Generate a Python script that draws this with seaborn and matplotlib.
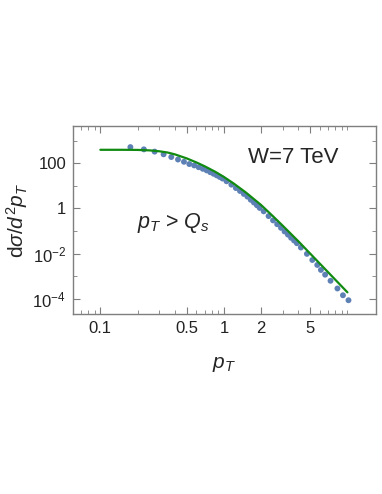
import numpy as np
import pandas as pd
import seaborn as sns
import matplotlib
matplotlib.use("Agg")
import matplotlib.pyplot as plt
from matplotlib.ticker import FixedLocator, NullFormatter


# theory curve (log10 of the cross section)
curve_pt = [0.1, 0.15, 0.2, 0.25, 0.3, 0.35, 0.4, 0.5, 0.6, 0.7, 0.85, 1.0, 1.2,
            1.5, 2.0, 2.5, 3.0, 4.0, 5.0, 6.0, 7.0, 8.0, 9.0, 10.0]
curve_log = [2.59, 2.59, 2.585, 2.565, 2.525, 2.47, 2.39, 2.21, 2.03, 1.86, 1.62,
             1.39, 1.10, 0.71, 0.15, -0.35, -0.77, -1.45, -2.0, -2.45, -2.83,
             -3.16, -3.45, -3.71]

# data points
data_pt = [0.175, 0.225, 0.275, 0.325, 0.375, 0.425, 0.475, 0.525, 0.575, 0.625,
           0.675, 0.725, 0.775, 0.825, 0.875, 0.925, 0.975,
           1.05, 1.15, 1.25, 1.35, 1.45, 1.55, 1.65, 1.75, 1.85, 1.95,
           2.1, 2.3, 2.5, 2.7, 2.9, 3.1, 3.3, 3.5, 3.7, 3.9,
           4.2, 4.7, 5.2, 5.7, 6.1, 6.6, 7.3, 8.3, 9.2, 10.2]
data_log = [2.71, 2.61, 2.51, 2.39, 2.27, 2.16, 2.06, 1.96, 1.90, 1.82,
            1.75, 1.68, 1.60, 1.53, 1.46, 1.39, 1.32,
            1.20, 1.05, 0.90, 0.77, 0.64, 0.52, 0.38, 0.26, 0.14, 0.02,
            -0.13, -0.34, -0.53, -0.70, -0.86, -1.02, -1.16, -1.30, -1.42, -1.54,
            -1.73, -2.01, -2.28, -2.50, -2.72, -2.93, -3.20, -3.54, -3.84, -4.06]

df_curve = pd.DataFrame({"pt": curve_pt, "y": np.power(10.0, curve_log)})
df_data = pd.DataFrame({"pt": data_pt, "y": np.power(10.0, data_log)})

sns.set_style("ticks")
plt.rcParams["font.family"] = ["Liberation Sans", "DejaVu Sans"]
plt.rcParams["mathtext.fontset"] = "custom"
plt.rcParams["mathtext.rm"] = "Liberation Sans"
plt.rcParams["mathtext.it"] = "Liberation Sans:italic"
plt.rcParams["mathtext.default"] = "regular"

frame = "#7f7f7f"

fig = plt.figure(figsize=(3.82, 4.94), dpi=100)
ax = fig.add_axes([0.191, 0.3644, 0.793, 0.3806])

sns.scatterplot(data=df_data, x="pt", y="y", color="#5e81b5", s=18,
                edgecolor="none", ax=ax, zorder=2)
sns.lineplot(data=df_curve, x="pt", y="y", color="#108a10", lw=1.6,
             ax=ax, zorder=3)

ax.set_xscale("log")
ax.set_yscale("log")
ax.set_xlim(0.06, 17)
ax.set_ylim(2.15e-5, 4400)

ax.xaxis.set_major_locator(FixedLocator([0.1, 0.5, 1, 2, 5]))
ax.set_xticklabels(["0.1", "0.5", "1", "2", "5"])
xminor = [0.06, 0.07, 0.08, 0.09, 0.2, 0.3, 0.4, 0.6, 0.7, 0.8, 0.9,
          3, 4, 6, 7, 8, 9, 10]
ax.xaxis.set_minor_locator(FixedLocator(xminor))
ax.xaxis.set_minor_formatter(NullFormatter())

ax.yaxis.set_major_locator(FixedLocator([1e-4, 1e-2, 1, 100]))
ax.set_yticklabels([r"$10^{-4}$", r"$10^{-2}$", "1", "100"])
ax.yaxis.set_minor_locator(FixedLocator([1e-5, 1e-3, 1e-1, 10, 1000]))
ax.yaxis.set_minor_formatter(NullFormatter())

ax.tick_params(which="both", direction="in", top=True, right=True,
               color=frame, labelsize=12, labelcolor="#222222", pad=5)
ax.tick_params(which="major", length=5, width=0.8)
ax.tick_params(which="minor", length=3, width=0.6)
for sp in ax.spines.values():
    sp.set_color(frame)
    sp.set_linewidth(1.0)

ax.set_xlabel(r"$\mathit{p_T}$", fontsize=15, labelpad=14)
ax.set_ylabel(r"d$\mathit{\sigma/d^2p_T}$", fontsize=15, labelpad=2)

ax.text(0.578, 0.83, "W=7 TeV", transform=ax.transAxes, fontsize=16,
        ha="left", va="center")
ax.text(0.211, 0.486, r"$\mathit{p_T}$ > $\mathit{Q_s}$", transform=ax.transAxes,
        fontsize=15.5, ha="left", va="center")

fig.savefig("out.png", dpi=100)
